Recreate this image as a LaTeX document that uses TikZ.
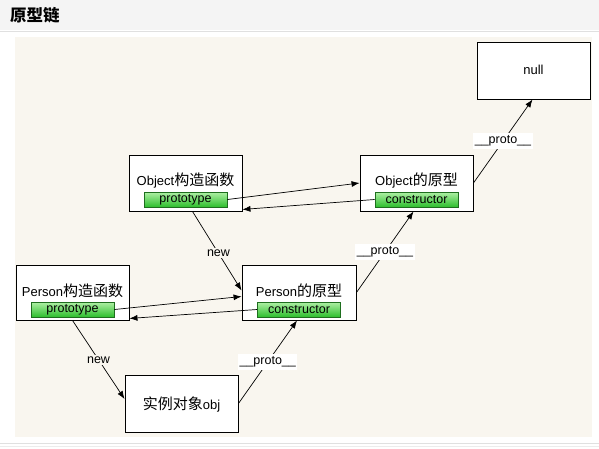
\documentclass[tikz,border=0pt]{standalone}
\usepackage{fontspec}
\setmainfont{Liberation Sans}
\newfontfamily\cjk{Noto Sans CJK SC}
\usetikzlibrary{arrows.meta,calc}
\definecolor{canvas}{RGB}{249,246,239}
\definecolor{headbg}{RGB}{244,244,244}
\definecolor{headline}{RGB}{224,224,224}
\definecolor{bartop}{RGB}{175,240,165}
\definecolor{barbot}{RGB}{45,190,45}
\definecolor{barline}{RGB}{30,110,30}
\tikzset{
  box/.style={draw=black, line width=0.9pt, fill=white, minimum width=113pt, minimum height=56pt, inner sep=0pt},
  lbl/.style={font=\fontsize{13}{15}\selectfont, inner sep=0pt},
  bar/.style={draw=barline, line width=0.8pt, top color=bartop, bottom color=barbot, minimum width=83pt, minimum height=15pt, inner sep=0pt, font=\fontsize{12.5}{13}\selectfont},
  conn/.style={line width=0.7pt, -{Latex[length=8pt,width=6pt]}},
  edgelbl/.style={font=\fontsize{12.5}{14}\selectfont, inner sep=1.5pt},
  protolbl/.style={edgelbl, fill=white, minimum width=58pt, minimum height=16pt}
}
\newcommand{\zh}[1]{{\cjk\fontsize{15}{17}\selectfont #1}}
\begin{document}
\begin{tikzpicture}[x=1pt,y=-1pt]
\useasboundingbox (0,0) rectangle (599,448);
\fill[white] (0,0) rectangle (599,448);
\fill[headbg] (0,0) rectangle (599,30);
\draw[headline, line width=1pt] (0,31) -- (599,31);
\node[anchor=west, inner sep=0pt] (title) at (10,15) {\cjk\bfseries\fontsize{16.5}{18}\selectfont 原型链};
\fill[canvas] (15,37) rectangle (592,437);
\draw[headline, line width=1pt] (0,443) -- (599,443);
\draw[headline!60, line width=0.8pt] (0,446) -- (599,446);

% boxes
\node[box, minimum height=57pt] (null) at (533.5,70.5) {};
\node[lbl] (nullt) at (533.5,70) {null};
\node[box] (objC) at (185.5,183) {};
\node[lbl] (objCt) at (185.5,181) {Object\zh{构造函数}};
\node[bar] (objCbar) at (185.5,199.5) {prototype};
\node[box] (objP) at (416.5,183) {};
\node[lbl] (objPt) at (416.5,181) {Object\zh{的原型}};
\node[bar] (objPbar) at (416.5,199.5) {constructor};
\node[box, minimum height=55pt] (perC) at (72.5,292.5) {};
\node[lbl] (perCt) at (72.5,291) {Person\zh{构造函数}};
\node[bar] (perCbar) at (72.5,309.5) {prototype};
\node[box, minimum width=114pt, minimum height=55pt] (perP) at (299,292.5) {};
\node[lbl] (perPt) at (299,291) {Person\zh{的原型}};
\node[bar] (perPbar) at (299,309.5) {constructor};
\node[box, minimum height=57pt] (obj) at (181.5,403.5) {};
\node[lbl] (objt) at (181.5,404) {\zh{实例对象}obj};

% connectors
\draw[conn] (objCbar.east) -- (objP.west);
\draw[conn] (objPbar.west) -- ([yshift=2pt]objC.south east);
\draw[conn] (perCbar.east) -- ([yshift=-4pt]perP.west);
\draw[conn] (perPbar.west) -- ([yshift=2pt]perC.south east);
\draw[conn] ([xshift=7pt]objC.south) -- node[edgelbl, fill=canvas, pos=0.53] (new1) {new} ([yshift=2pt]perP.west);
\draw[conn] (perC.south) -- node[edgelbl, fill=canvas, pos=0.5] (new2) {new} ([yshift=4.5pt]obj.west);
\draw[conn] (obj.east) -- node[protolbl, pos=0.5] (p1) {\_\_proto\_\_} ([xshift=-2pt]perP.south);
\draw[conn] (perP.east) -- node[protolbl, pos=0.5] (p2) {\_\_proto\_\_} ([xshift=-3pt]objP.south);
\draw[conn] (objP.east) -- node[protolbl, pos=0.5] (p3) {\_\_proto\_\_} ([xshift=-1pt]null.south);
\end{tikzpicture}
\end{document}
